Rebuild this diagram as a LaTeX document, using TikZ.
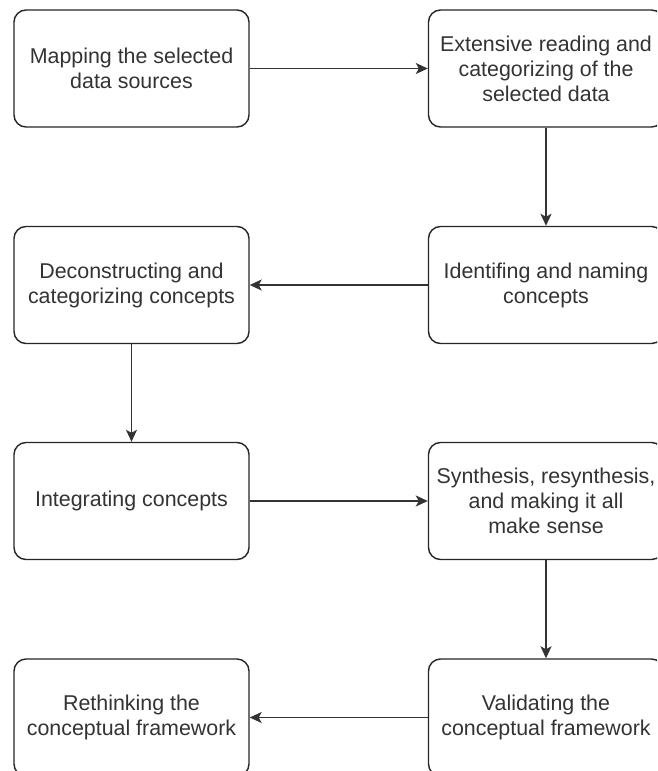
\documentclass[tikz,border=0pt]{standalone}
\usepackage{fontspec}
\setmainfont{Liberation Sans}
\usetikzlibrary{arrows.meta}
\begin{document}
\begin{tikzpicture}[x=1pt,y=-1pt,
  stepbox/.style={draw=black!85, line width=1.4pt, rounded corners=12pt,
    minimum width=235pt, minimum height=117pt, inner sep=0pt,
    align=center, text=black!80,
    font=\fontsize{21.4}{25}\selectfont},
  flow/.style={draw=black!80, line width=1.5pt,
    -{Stealth[length=12pt,width=11pt,inset=3pt]}}]
\useasboundingbox (0,0) rectangle (657,771);
\clip (0,0) rectangle (657,771);
\fill[white] (0,0) rectangle (657,771);
% left column
\node[stepbox] (a1) at (131.5,68.5) {Mapping the selected\\data sources};
\node[stepbox] (b1) at (131.5,285) {Deconstructing and\\categorizing concepts};
\node[stepbox] (c1) at (131.5,501) {Integrating concepts};
\node[stepbox] (d1) at (131.5,717.5) {Rethinking the\\conceptual framework};
% right column
\node[stepbox] (a2) at (546,68.5) {Extensive reading and\\categorizing of the\\selected data};
\node[stepbox] (b2) at (546,285) {Identifing and naming\\concepts};
\node[stepbox] (c2) at (546,501) {Synthesis, resynthesis,\\and making it all\\make sense};
\node[stepbox] (d2) at (546,717.5) {Validating the\\conceptual framework};
% connectors
\draw[flow] (a1) -- (a2);
\draw[flow] (a2) -- (b2);
\draw[flow] (b2) -- (b1);
\draw[flow] (b1) -- (c1);
\draw[flow] (c1) -- (c2);
\draw[flow] (c2) -- (d2);
\draw[flow] (d2) -- (d1);
\end{tikzpicture}
\end{document}
